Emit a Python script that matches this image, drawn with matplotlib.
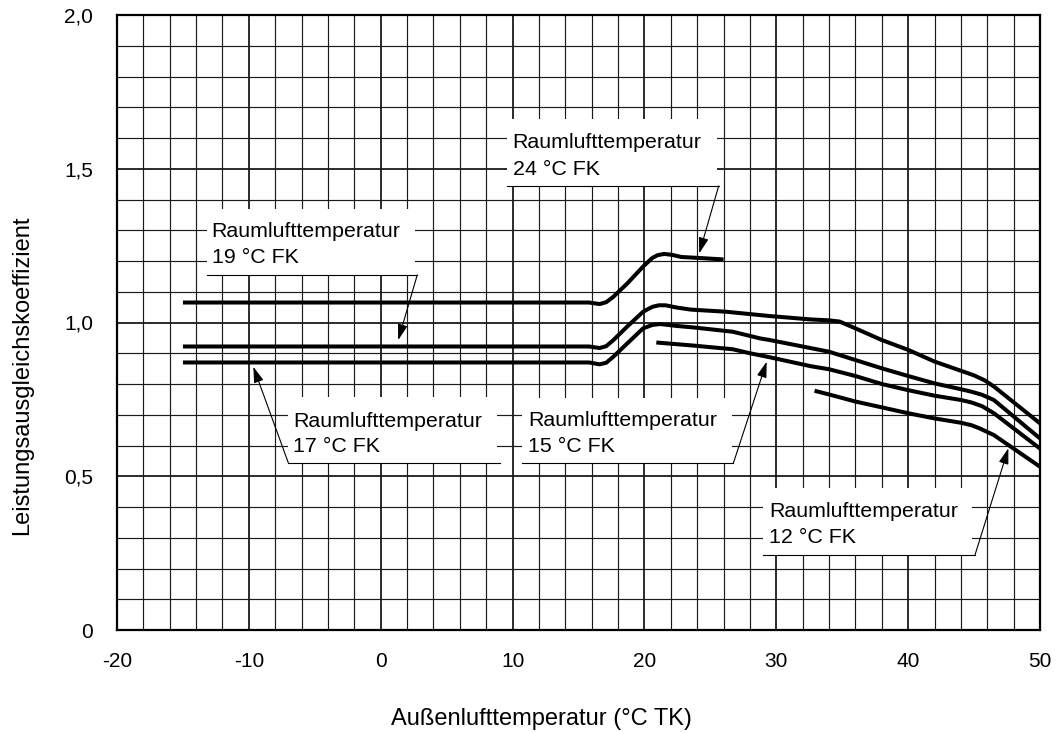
import matplotlib
matplotlib.use("Agg")
import matplotlib.pyplot as plt
from matplotlib.patches import Rectangle
from matplotlib.ticker import MultipleLocator

plt.rcParams['font.family'] = ['Liberation Sans', 'DejaVu Sans']

# ---------------- data ----------------
x_24 = [-15, 15.8, 16.6, 17.1, 17.6, 18.7, 19.9, 20.6, 21.0, 21.5, 22.1, 22.8, 24.1, 26.0]
y_24 = [1.065, 1.065, 1.060, 1.066, 1.082, 1.127, 1.182, 1.210, 1.219, 1.223, 1.220, 1.213, 1.210, 1.205]

x_19 = [-15, 15.8, 16.6, 17.1, 17.6, 18.7, 19.9, 20.6, 21.1, 21.6, 22.4, 23.5, 26.2, 29.5, 32.6,
        34.0, 34.8, 36.0, 38.0, 40.0, 42.0, 44.0, 45.0, 45.8, 46.5, 50]
y_19 = [0.922, 0.922, 0.917, 0.923, 0.941, 0.987, 1.035, 1.051, 1.056, 1.056, 1.049, 1.042, 1.035, 1.021, 1.010,
        1.007, 1.003, 0.981, 0.943, 0.911, 0.873, 0.843, 0.828, 0.812, 0.792, 0.672]

x_17 = [-15, 15.8, 16.6, 17.1, 17.6, 18.7, 19.9, 20.6, 21.2, 22.4, 23.7, 26.7, 28.8, 29.5,
        34.0, 36.0, 38.0, 40.0, 42.0, 44.0, 44.8, 45.6, 46.5, 50]
y_17 = [0.870, 0.870, 0.864, 0.869, 0.887, 0.932, 0.981, 0.992, 0.995, 0.989, 0.984, 0.970, 0.948, 0.943,
        0.905, 0.878, 0.851, 0.826, 0.802, 0.783, 0.775, 0.765, 0.748, 0.623]

x_15 = [20.9, 23.7, 26.7, 28.0, 29.5, 32.6, 34.0, 36.0, 38.0, 40.0, 42.0, 44.0, 44.8, 45.6, 46.5, 50]
y_15 = [0.935, 0.925, 0.913, 0.900, 0.887, 0.858, 0.848, 0.826, 0.800, 0.780, 0.762, 0.748, 0.740, 0.728, 0.705, 0.590]

x_12 = [32.9, 34.0, 36.0, 38.0, 40.0, 42.0, 44.0, 44.8, 45.4, 46.5, 50]
y_12 = [0.778, 0.766, 0.743, 0.724, 0.705, 0.688, 0.674, 0.666, 0.656, 0.634, 0.531]

x_ticks = [-20, -10, 0, 10, 20, 30, 40, 50]
y_ticks = [0, 0.5, 1.0, 1.5, 2.0]
y_ticklabels = ['0', '0,5', '1,0', '1,5', '2,0']

x_label = 'Außenlufttemperatur (°C TK)'
y_label = 'Leistungsausgleichskoeffizient'

label_line1 = 'Raumlufttemperatur'
label_line2 = ['24 °C FK', '19 °C FK', '17 °C FK', '15 °C FK', '12 °C FK']

# ---------------- layout of annotations (data coords) ----------------
# box: (x0, x1, y_bottom, y_top), bottom line (xa, xb), leader start, arrow tip, text x, baselines
boxes = [
    dict(box=(9.55, 25.48, 1.444, 1.661), line=(9.55, 25.63), start=(25.63, 1.444), tip=(24.16, 1.225),
         tx=10.01, bl=(1.5665, 1.4797)),
    dict(box=(-13.20, 2.60, 1.1545, 1.368), line=(-13.20, 2.77), start=(2.77, 1.1545), tip=(1.33, 0.943),
         tx=-12.82, bl=(1.277, 1.1925)),
    dict(box=(-7.01, 8.8, 0.544, 0.759), line=(-7.01, 9.05), start=(-7.01, 0.544), tip=(-9.66, 0.856),
         tx=-6.63, bl=(0.661, 0.579)),
    dict(box=(10.69, 26.62, 0.542, 0.7535), line=(10.69, 26.74), start=(26.74, 0.542), tip=(29.27, 0.8725),
         tx=11.19, bl=(0.6634, 0.580)),
    dict(box=(29.01, 44.82, 0.244, 0.461), line=(29.01, 45.07), start=(45.07, 0.244), tip=(47.6, 0.591),
         tx=29.47, bl=(0.3685, 0.284)),
]

W, H = 1058, 733
fig = plt.figure(figsize=(W / 100, H / 100), dpi=100)
L, R, T, B = 117, 1040, 15, 630
ax = fig.add_axes([L / W, (H - B) / H, (R - L) / W, (B - T) / H])

ax.set_xlim(-20, 50)
ax.set_ylim(0, 2.0)
ax.set_axisbelow(True)

ax.xaxis.set_major_locator(MultipleLocator(10))
ax.xaxis.set_minor_locator(MultipleLocator(2))
ax.yaxis.set_major_locator(MultipleLocator(0.5))
ax.yaxis.set_minor_locator(MultipleLocator(0.1))
ax.set_xticks(x_ticks)
ax.set_xticklabels([str(v) for v in x_ticks])
ax.set_yticks(y_ticks)
ax.set_yticklabels(y_ticklabels)

ax.grid(which='major', color='#1a1a1a', linewidth=1.3)
ax.grid(which='minor', color='#1a1a1a', linewidth=0.85)
ax.tick_params(which='both', length=0)
ax.tick_params(axis='x', which='major', pad=16, labelsize=15)
ax.tick_params(axis='y', which='major', pad=17.3, labelsize=15)
for s in ax.spines.values():
    s.set_linewidth(1.6)
    s.set_color('black')

lw_curve = 2.9
for xs, ys in [(x_24, y_24), (x_19, y_19), (x_17, y_17), (x_15, y_15), (x_12, y_12)]:
    ax.plot(xs, ys, color='black', linewidth=lw_curve, zorder=5,
            solid_capstyle='butt', solid_joinstyle='round')

for b, l2 in zip(boxes, label_line2):
    x0, x1, y0, y1 = b['box']
    ax.add_patch(Rectangle((x0, y0), x1 - x0, y1 - y0, facecolor='white', edgecolor='none', zorder=2))
    ax.plot([b['line'][0], b['line'][1]], [y0, y0], color='black', linewidth=0.8, zorder=3)
    ax.annotate('', xy=b['tip'], xytext=b['start'],
                arrowprops=dict(arrowstyle='-|>,head_length=0.8,head_width=0.25', color='black',
                                lw=0.8, shrinkA=0, shrinkB=0, mutation_scale=12),
                zorder=4)
    ax.text(b['tx'], b['bl'][0], label_line1, fontsize=15.4, ha='left', va='baseline', zorder=6)
    ax.text(b['tx'], b['bl'][1], l2, fontsize=15.4, ha='left', va='baseline', zorder=6)

fig.text(541 / W, (H - 725) / H, x_label, fontsize=17, ha='center', va='baseline')
fig.text(22 / W, (H - 375) / H, y_label, fontsize=17, ha='center', va='center', rotation=90)

fig.savefig('out.png', dpi=100)
